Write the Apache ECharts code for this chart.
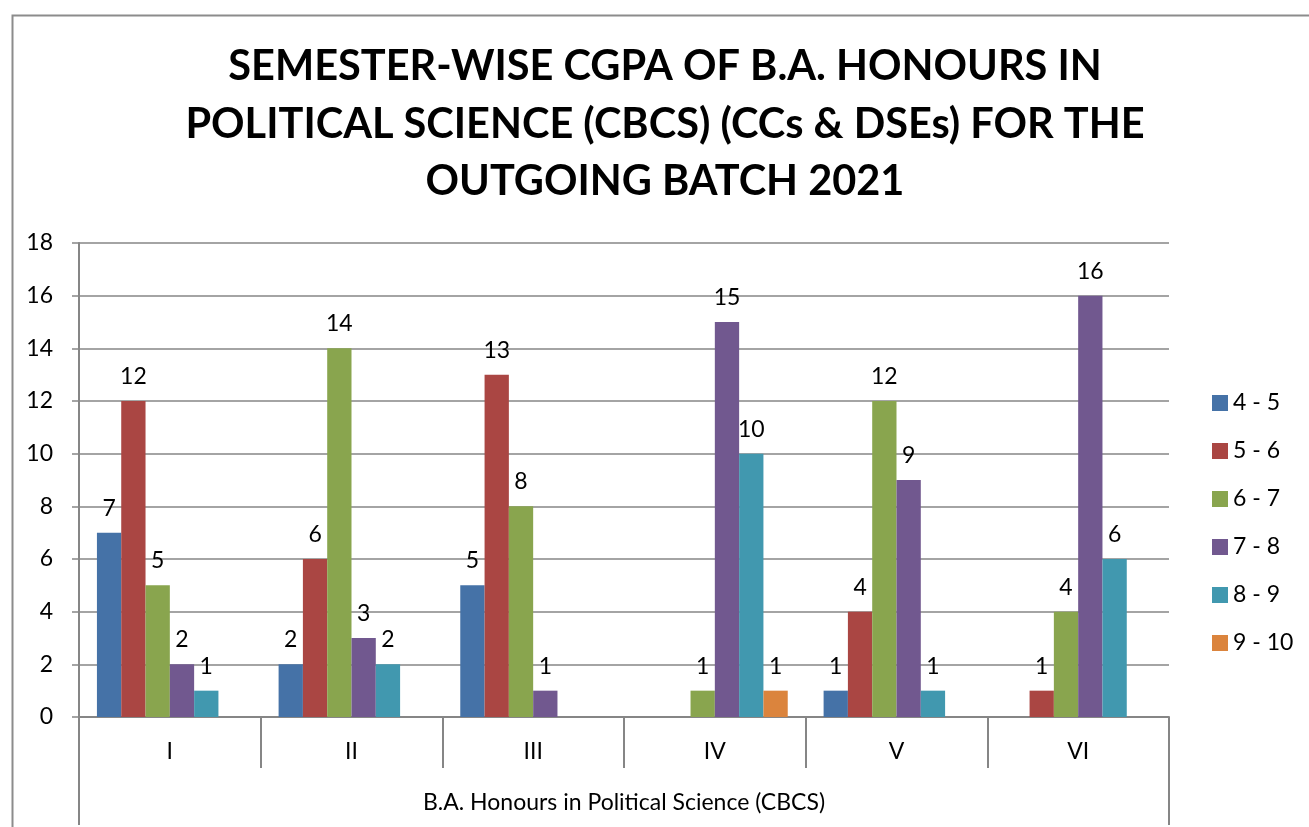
<!DOCTYPE html>
<html>
<head>
<meta charset="utf-8">
<script src="https://cdn.jsdelivr.net/npm/echarts@6/dist/echarts.min.js"></script>
<style>
  html, body { margin: 0; padding: 0; background: #fff; }
  #chart { width: 1309px; height: 827px; }
</style>
</head>
<body>
<div id="chart"></div>
<script>
// Semesters on the category axis
const semesters = ['I', 'II', 'III', 'IV', 'V', 'VI'];
const groupLabel = ['B.A. Honours in Political Science (CBCS)'];

// Number of students per CGPA band in each semester (null = no students)
const band45  = [7, 2, 5, null, 1, null];
const band56  = [12, 6, 13, null, 4, 1];
const band67  = [5, 14, 8, 1, 12, 4];
const band78  = [2, 3, 1, 15, 9, 16];
const band89  = [1, 2, null, 10, 1, 6];
const band910 = [null, null, null, 1, null, null];

const bandNames = ['4 - 5', '5 - 6', '6 - 7', '7 - 8', '8 - 9', '9 - 10'];
const bandValues = [band45, band56, band67, band78, band89, band910];
const bandColors = ['#4572A7', '#AA4643', '#89A54E', '#71588F', '#4198AF', '#DB843D'];

const yTicks = { min: 0, max: 18, interval: 2 };

const FONT = 'Lato';
const GRAY = '#868686';
const TXT = 23;

const chart = echarts.init(document.getElementById('chart'), null, { renderer: 'canvas' });

const series = bandNames.map((name, i) => ({
  name: name,
  type: 'bar',
  data: bandValues[i],
  barWidth: 24.3,
  barGap: '0%',
  itemStyle: { color: bandColors[i] },
  label: {
    show: true,
    position: 'top',
    distance: 13,
    color: '#000',
    fontFamily: FONT,
    fontSize: TXT
  }
}));

chart.setOption({
  animation: false,
  backgroundColor: '#fff',
  graphic: [{
    type: 'rect',
    left: 10, top: 13,
    shape: { width: 1400, height: 900 },
    style: { fill: 'none', stroke: '#8c8c8c', lineWidth: 2 },
    silent: true
  }],
  title: {
    text: 'SEMESTER-WISE CGPA OF B.A. HONOURS IN\nPOLITICAL SCIENCE (CBCS) (CCs & DSEs) FOR THE\nOUTGOING BATCH 2021',
    left: 665,
    textAlign: 'center',
    top: 38,
    padding: 0,
    textStyle: {
      fontFamily: FONT,
      fontWeight: 'bold',
      fontSize: 41.5,
      lineHeight: 57.5,
      color: '#000'
    }
  },
  legend: {
    orient: 'vertical',
    left: 1212,
    top: 391,
    padding: 0,
    itemWidth: 16,
    itemHeight: 16,
    itemGap: 24,
    icon: 'rect',
    textStyle: { fontFamily: FONT, fontSize: TXT, color: '#000', lineHeight: 24 },
    data: bandNames
  },
  grid: { left: 79, top: 243, right: 140, bottom: 110, containLabel: false },
  xAxis: [{
    type: 'category',
    data: semesters,
    axisLine: { lineStyle: { color: GRAY, width: 2 } },
    axisTick: { show: true, length: 51, lineStyle: { color: GRAY, width: 2 } },
    axisLabel: { margin: 23, color: '#000', fontFamily: FONT, fontSize: TXT }
  }, {
    type: 'category',
    data: groupLabel,
    position: 'bottom',
    axisLine: { show: false },
    axisTick: { show: true, length: 108, lineStyle: { color: GRAY, width: 2 } },
    axisLabel: { margin: 74, color: '#000', fontFamily: FONT, fontSize: TXT }
  }],
  yAxis: {
    type: 'value',
    min: yTicks.min,
    max: yTicks.max,
    interval: yTicks.interval,
    axisLine: { show: true, lineStyle: { color: GRAY, width: 2 } },
    axisTick: { show: true, inside: false, length: 7, lineStyle: { color: GRAY, width: 1.5 } },
    splitLine: { show: true, lineStyle: { color: GRAY, width: 1.5 } },
    axisLabel: { margin: 26, color: '#000', fontFamily: FONT, fontSize: TXT }
  },
  series: series
});
</script>
</body>
</html>
